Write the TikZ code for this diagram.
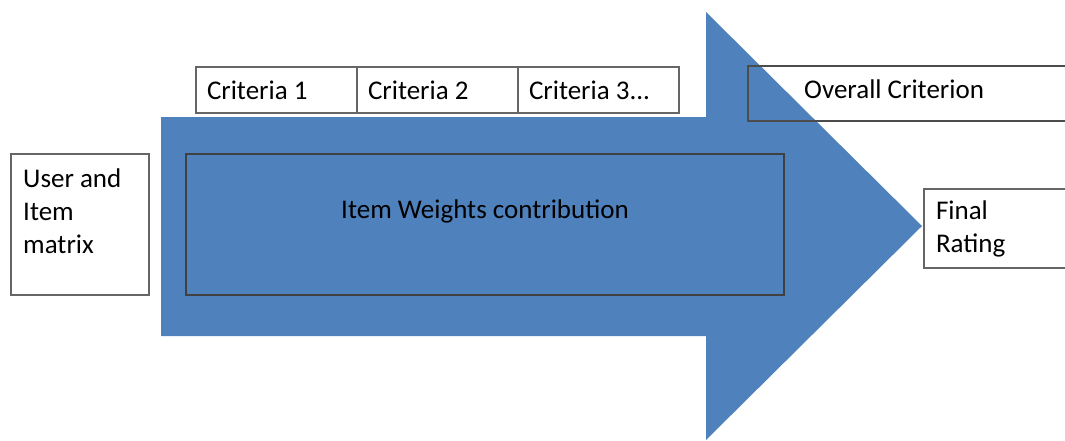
\documentclass[tikz,border=0pt]{standalone}
\usepackage{fontspec}
\setmainfont{Carlito}
\usetikzlibrary{positioning}
\definecolor{arrowblue}{HTML}{4F81BD}
\begin{document}
\begin{tikzpicture}[x=1pt,y=-1pt,
    box/.style={draw=black!60, line width=1.2pt, inner sep=0pt, outer sep=0pt},
    txt/.style={font=\fontsize{27}{33}\selectfont, align=flush left},
    crit/.style={box, txt, fill=white, text width=139pt, inner xsep=11pt,
      minimum height=46pt}]
      \useasboundingbox (0,0) rectangle (1065,440);
      \clip (0,0) rectangle (1065,440);
%
      \fill[arrowblue] (161,117) -- (706,117) -- (706,12) -- (922,226)
        -- (706,440) -- (706,336) -- (161,336) -- cycle;
%
      \node[box, fill=white, minimum width=138pt, minimum height=141pt,
        anchor=north west] (user) at (11,154) {};
      \node[txt, inner sep=0pt, anchor=west] (usertext) at (23,211)
        {User and\\Item\\matrix};
%
      \node[crit, anchor=north west] (crit1) at (196,67) {Criteria 1};
      \node[crit, right=0pt of crit1] (crit2) {Criteria 2};
      \node[crit, right=0pt of crit2] (crit3) {Criteria 3...};
%
      \node[box, draw=black!75, minimum width=598pt, minimum height=141pt,
        anchor=north west] (weights) at (186,154) {};
      \node[txt, inner sep=0pt] (weightstext) at (485,211)
        {Item Weights contribution};
%
      \node[box, draw=black!70, minimum width=340pt, minimum height=55pt,
        anchor=north west] (overall) at (748,66) {};
      \node[txt, inner sep=0pt, anchor=west] (overalltext) at (804,89)
        {Overall Criterion};
%
      \node[box, txt, fill=white, text width=136pt, inner xsep=12pt,
        minimum height=79pt, anchor=north west] (final) at (924,189)
        {Final\\Rating};
%
      \end{tikzpicture}
\end{document}
